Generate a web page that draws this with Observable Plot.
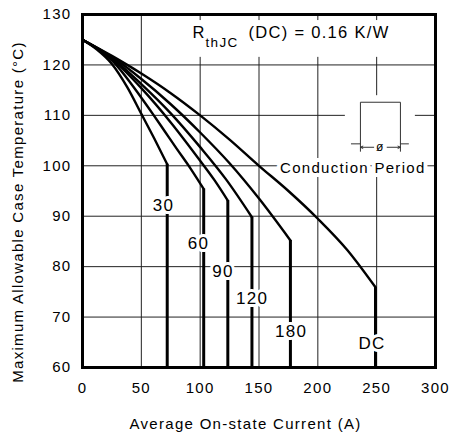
<!DOCTYPE html>
<html><head><meta charset="utf-8">
<script src="https://cdn.jsdelivr.net/npm/d3@7"></script>
<script src="https://cdn.jsdelivr.net/npm/@observablehq/plot@0.6"></script>
<style>
body{margin:0;background:#fff;}
svg g[aria-label="ylabel"] text{letter-spacing:1.75px}
svg g[aria-label="cond"] text{letter-spacing:0.6px}
svg g[aria-label="rth"] text{letter-spacing:0.9px}
</style>
</head><body><div id="chart"></div>
<script>
const xTicks = [0, 50, 100, 150, 200, 250, 300];
const yTicks = [60, 70, 80, 90, 100, 110, 120, 130];
const seriesNames = ["30", "60", "90", "120", "180", "DC"];

const current30 = [0, 12, 25, 38, 50, 61, 72];
const temp30    = [125, 123.1, 120.2, 115.6, 110.3, 105.4, 100.3];
const current60 = [0, 25, 50, 60, 70, 80, 92, 103];
const temp60    = [125, 120.9, 113.5, 110.2, 106.8, 103.4, 99.4, 95.4];
const current90 = [0, 25, 50, 75, 100, 112, 123.5];
const temp90    = [125, 121.2, 115.4, 108.6, 101, 97.2, 93.1];
const current120 = [0, 25, 50, 75, 100, 122, 144];
const temp120    = [125, 121.4, 116.2, 110.4, 103.7, 97.3, 89.8];
const current180 = [0, 25, 50, 75, 100, 125, 150, 176.7];
const temp180    = [125, 121.6, 117.2, 112.2, 106.6, 100.5, 93.5, 85.2];
const currentDC = [0, 25, 50, 75, 100, 125, 150, 175, 200, 225, 249];
const tempDC    = [125, 121.8, 118.3, 114.4, 110, 105.2, 100, 95, 89.5, 83.3, 75.9];

const labelCurrent = [68.8, 98.6, 119.5, 144.2, 177.3, 246.1];
const labelTemp    = [92.1, 84.6, 79.1, 73.6, 67.1, 64.8];

const xTitle = "Average On-state Current (A)";
const yTitle = "Maximum Allowable Case Temperature (°C)";
const rthMain = "R", rthSub = "thJC", rthRest = "(DC) = 0.16 K/W";
const rthPos = [93.5, 126.3];
const condText = "Conduction Period";
const condPos = [229.7, 99.44];
// white backing boxes for annotations [x1, x2, y1, y2]
const boxes = [[87.5, 263, 121.5, 128.8], [223.4, 282.9, 101.0, 113.9]];
// conduction-period pulse glyph
const pulseX = [228.5, 236.2, 236.2, 270.2, 270.2, 277];
const pulseY = [104.35, 104.35, 112.6, 112.6, 104.35, 104.35];
const dimTickX = [236.2, 270.2];
const dimTickY = [102.7, 104.35];
const arrowY = 103.67;
const arrowSpans = [[247.5, 236.2], [258.9, 270.2]];
const phiPos = [253.2, 103.67];

const currents = [current30, current60, current90, current120, current180, currentDC];
const temps = [temp30, temp60, temp90, temp120, temp180, tempDC];
const curveData = seriesNames.flatMap((s, i) => currents[i].map((c, j) => ({series: s, current: c, temp: temps[i][j]})));
const drops = seriesNames.map((s, i) => ({series: s, current: currents[i][currents[i].length - 1], temp: temps[i][temps[i].length - 1]}));
const labels = seriesNames.map((s, i) => ({text: s, current: labelCurrent[i], temp: labelTemp[i]}));
const pulse = pulseX.map((x, i) => ({x, y: pulseY[i]}));

const chart = Plot.plot({
  width: 450, height: 436,
  marginLeft: 82, marginRight: 15, marginTop: 14, marginBottom: 69,
  x: {domain: [0, 300]},
  y: {domain: [60, 130]},
  style: {fontFamily: "'Liberation Sans', Arial, sans-serif", fontSize: "15px", letterSpacing: "1.3px", color: "#000", background: "#fff"},
  marks: [
    Plot.gridX(xTicks, {stroke: "#222", strokeOpacity: 1, strokeWidth: 1}),
    Plot.gridY(yTicks, {stroke: "#222", strokeOpacity: 1, strokeWidth: 1}),
    Plot.rect(boxes, {x1: d => d[0], x2: d => d[1], y1: d => d[2], y2: d => d[3], fill: "white"}),
    Plot.line(curveData, {x: "current", y: "temp", z: "series", stroke: "#000", strokeWidth: 2.4, curve: "monotone-x"}),
    Plot.ruleX(drops, {x: "current", y1: 60, y2: "temp", stroke: "#000", strokeWidth: 3}),
    Plot.text(labels, {x: "current", y: "temp", text: "text", fontSize: 17, fill: "#000", stroke: "white", strokeWidth: 6}),
    Plot.line(pulse, {x: "x", y: "y", stroke: "#333", strokeWidth: 1}),
    Plot.ruleX(dimTickX, {x: d => d, y1: dimTickY[0], y2: dimTickY[1], stroke: "#333", strokeWidth: 1}),
    Plot.arrow(arrowSpans, {x1: d => d[0], x2: d => d[1], y1: arrowY, y2: arrowY, stroke: "#333", strokeWidth: 1, headLength: 4, headAngle: 50}),
    Plot.text(["ø"], {x: phiPos[0], y: phiPos[1], text: d => d, fontSize: 12, fill: "#000"}),
    Plot.text([condText], {ariaLabel: "cond", x: condPos[0], y: condPos[1], text: d => d, fontSize: 15, fill: "#000", stroke: "white", strokeWidth: 8}),
    Plot.text([rthMain], {ariaLabel: "rth", x: rthPos[0], y: rthPos[1], text: d => d, textAnchor: "start", fontSize: 16.5}),
    Plot.text([rthSub], {ariaLabel: "rth", x: rthPos[0], y: rthPos[1], text: d => d, textAnchor: "start", fontSize: 13.5, dx: 13, dy: 10}),
    Plot.text([rthRest], {ariaLabel: "rth", x: rthPos[0], y: rthPos[1], text: d => d, textAnchor: "start", fontSize: 16.5, dx: 56}),
    Plot.axisX(xTicks, {tickSize: 0, tickPadding: 15, fontSize: 15, label: null}),
    Plot.axisY(yTicks, {tickSize: 0, tickPadding: 11, fontSize: 15, label: null}),
    Plot.text([xTitle], {text: d => d, frameAnchor: "bottom", textAnchor: "middle", lineAnchor: "middle", dx: -13.5, dy: 57, fontSize: 15}),
    Plot.text([yTitle], {ariaLabel: "ylabel", text: d => d, frameAnchor: "left", textAnchor: "middle", lineAnchor: "middle", rotate: -90, dx: -64, dy: 21, fontSize: 15}),
    Plot.frame({stroke: "#000", strokeWidth: 3})
  ]
});
document.getElementById("chart").append(chart);
</script></body></html>
